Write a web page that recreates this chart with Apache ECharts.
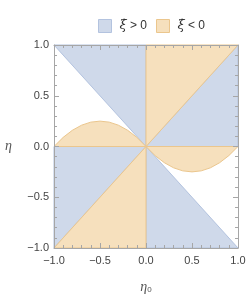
<!DOCTYPE html>
<html><head><meta charset="utf-8">
<script src="https://cdn.jsdelivr.net/npm/echarts@6/dist/echarts.min.js"></script>
<style>html,body{margin:0;padding:0;background:#fff}#c{width:249px;height:299px}</style>
</head><body><div id="c"></div>
<script>
// ---- data ----
const axisMin = -1, axisMax = 1, majorStep = 0.5;
const legendNames = ['pos', 'neg'];
// blue regions (xi-dot > 0), polygon vertices [eta0, eta]
const bluePolys = [
  [[-1, 1], [0, 1], [0, 0]],
  [[0, 0], [1, 0], [1, 1]],
  [[-1, -1], [-1, 0], [0, 0]],
  [[0, 0], [0, -1], [1, -1]]
];
// orange boundary curves
const curveLeftX  = [-1, -0.9, -0.8, -0.7, -0.6, -0.5, -0.4, -0.3, -0.2, -0.1, 0];
const curveLeftY  = [0, 0.09, 0.16, 0.21, 0.24, 0.25, 0.24, 0.21, 0.16, 0.09, 0];
const curveRightX = [0, 0.1, 0.2, 0.3, 0.4, 0.5, 0.6, 0.7, 0.8, 0.9, 1];
const curveRightY = [0, -0.09, -0.16, -0.21, -0.24, -0.25, -0.24, -0.21, -0.16, -0.09, 0];
const orangeTriangles = [
  [[0, 0], [0, 1], [1, 1]],
  [[-1, -1], [0, 0], [0, -1]]
];

const orangePolys = [
  curveLeftX.map((x, i) => [x, curveLeftY[i]]),
  curveRightX.map((x, i) => [x, curveRightY[i]]),
  ...orangeTriangles
];

const BLUE_FILL = '#cfd9ea', BLUE_EDGE = '#b3c3df';
const ORANGE_FILL = '#f6e0bd', ORANGE_EDGE = '#ebc68d';
const FRAME = '#a6a6a6', LABEL = '#444';

function polySeries(name, polys, fill, edge) {
  return {
    type: 'custom', name: name, coordinateSystem: 'cartesian2d',
    xAxisIndex: 0, yAxisIndex: 0,
    itemStyle: { color: fill, borderColor: edge, borderWidth: 1 },
    data: polys.map((p, i) => [p[0][0], p[0][1], i]),
    renderItem: function (params, api) {
      const pts = polys[params.dataIndex].map(p => api.coord(p));
      return { type: 'polygon', shape: { points: pts },
        style: { fill: fill, stroke: edge, lineWidth: 1 } };
    }
  };
}

const fmt = v => (v < 0 ? '\u2212' : '') + Math.abs(v).toFixed(1);

function axis(pos, showLabel, extra) {
  return Object.assign({
    type: 'value', position: pos, min: axisMin, max: axisMax, interval: majorStep,
    z: 5,
    axisLine: { show: true, onZero: false, lineStyle: { color: FRAME, width: 1 } },
    axisTick: { show: true, inside: true, length: 5, lineStyle: { color: FRAME } },
    minorTick: { show: true, splitNumber: 5, length: 3, lineStyle: { color: FRAME } },
    splitLine: { show: false },
    axisLabel: { show: showLabel, formatter: fmt, color: LABEL, fontSize: 11,
      fontFamily: 'Liberation Sans' }
  }, extra || {});
}

const chart = echarts.init(document.getElementById('c'), null, { renderer: 'canvas' });
chart.setOption({
  animation: false,
  backgroundColor: '#fff',
  grid: { left: 54, right: 11, top: 45, bottom: 47, containLabel: false },
  legend: {
    left: 93, top: 14, itemWidth: 13, itemHeight: 13, itemGap: 9,
    data: [
      { name: legendNames[0], icon: 'rect', itemStyle: { color: BLUE_FILL, borderColor: BLUE_EDGE, borderWidth: 1 } },
      { name: legendNames[1], icon: 'rect', itemStyle: { color: ORANGE_FILL, borderColor: ORANGE_EDGE, borderWidth: 1 } }
    ],
    formatter: n => n === 'pos' ? '{i|\u03BE\u0307}{t| > 0}' : '{i|\u03BE\u0307}{t| < 0}',
    textStyle: {
      color: '#333',
      rich: {
        i: { fontFamily: 'DejaVu Serif', fontStyle: 'italic', fontSize: 13, padding: [0, 0, 0, 3] },
        t: { fontFamily: 'Liberation Sans', fontSize: 12 }
      }
    }
  },
  xAxis: [
    axis('bottom', true, {
      name: '{i|\u03B7}{s|0}', nameLocation: 'middle', nameGap: 32,
      nameTextStyle: { rich: {
        i: { fontFamily: 'Liberation Serif', fontStyle: 'italic', fontSize: 14, color: '#555' },
        s: { fontFamily: 'Liberation Sans', fontSize: 8, color: '#555', padding: [6, 0, 0, 0] }
      } },
      axisLabel: { show: true, formatter: fmt, color: LABEL, fontSize: 11, margin: 7,
        fontFamily: 'Liberation Sans' }
    }),
    axis('top', false)
  ],
  yAxis: [
    axis('left', true, {
      name: '\u03B7', nameLocation: 'middle', nameGap: 42, nameRotate: 0,
      nameTextStyle: { fontFamily: 'Liberation Serif', fontStyle: 'italic', fontSize: 14, color: '#555' },
      axisLabel: { show: true, formatter: fmt, color: LABEL, fontSize: 11, margin: 5,
        fontFamily: 'Liberation Sans' }
    }),
    axis('right', false)
  ],
  series: [
    polySeries(legendNames[0], bluePolys, BLUE_FILL, BLUE_EDGE),
    polySeries(legendNames[1], orangePolys, ORANGE_FILL, ORANGE_EDGE)
  ]
});
</script>
</body></html>
